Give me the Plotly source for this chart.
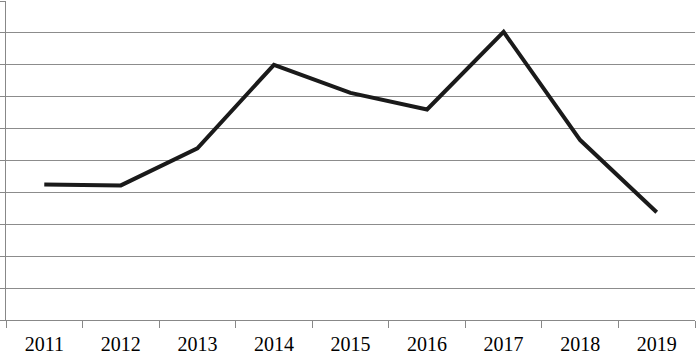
import plotly.graph_objects as go

years = ["2011", "2012", "2013", "2014", "2015", "2016", "2017", "2018", "2019"]
values = [4.25, 4.22, 5.38, 8.0, 7.12, 6.6, 9.03, 5.64, 3.38]

SERIF = "Times New Roman, Liberation Serif, Tinos, DejaVu Serif, serif"

fig = go.Figure()
fig.add_trace(go.Scatter(
    x=years, y=values, mode="lines",
    line=dict(color="#1a1a1a", width=4),
    showlegend=False,
))

fig.update_layout(
    width=697, height=353,
    margin=dict(l=6, r=2, t=1, b=33, autoexpand=False),
    paper_bgcolor="white", plot_bgcolor="white",
    font=dict(family=SERIF, size=20, color="black"),
)
fig.update_xaxes(
    type="category", range=[-0.5, 8.5], automargin=False,
    tickson="boundaries", ticks="outside", ticklen=7, tickcolor="#888888", tickwidth=1,
    ticklabelstandoff=6,
    showline=True, linecolor="#888888", linewidth=1,
    showgrid=False, zeroline=False,
    tickfont=dict(family=SERIF, size=20, color="black"),
)
fig.update_yaxes(
    range=[0, 10], dtick=1, tick0=0, automargin=False,
    showticklabels=False, ticks="outside", ticklen=6, tickcolor="#888888", tickwidth=1,
    showline=True, linecolor="#888888", linewidth=1,
    showgrid=True, gridcolor="#8c8c8c", gridwidth=1, zeroline=False,
)

fig.write_html(
    "out.html",
    config={"displayModeBar": False},
    post_script="document.body.style.margin='0';document.body.style.overflow='hidden';",
)
